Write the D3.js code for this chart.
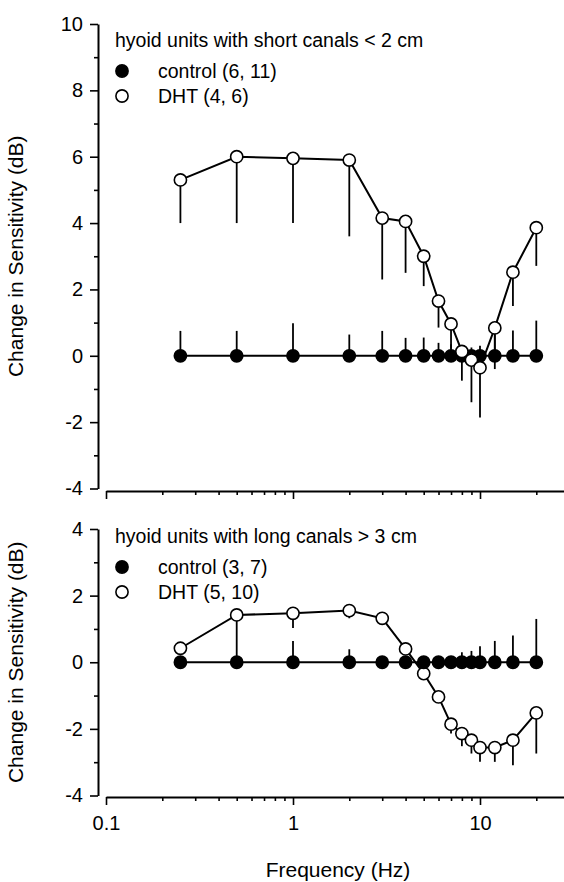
<!DOCTYPE html>
<html>
<head>
<meta charset="utf-8">
<script src="https://cdn.jsdelivr.net/npm/d3@7"></script>
<style>
  html, body { margin: 0; padding: 0; background: #fff; }
  svg { display: block; }
  text { font-family: "Liberation Sans", Arial, Helvetica, sans-serif; fill: #000; }
</style>
</head>
<body>
<script>
// Stimulus frequencies (Hz), shared by every series
const frequencies = [0.25, 0.5, 1, 2, 3, 4, 5, 6, 7, 8, 9, 10, 12, 15, 20];

// Hyoid units with short canals (< 2 cm)
const shortControl    = [0, 0, 0, 0, 0, 0, 0, 0, 0, 0, 0, 0, 0, 0, 0];
const shortControlErr = [0.75, 0.75, 0.98, 0.64, 0.75, 0.54, 0.55, 0.39, 0.35, 0.3, 0.25, 0.3, 0.64, 0.76, 1.06];
const shortDHT        = [5.3, 6.0, 5.95, 5.9, 4.15, 4.05, 3.0, 1.65, 0.96, 0.13, -0.13, -0.36, 0.84, 2.52, 3.86];
const shortDHTErr     = [1.3, 2.0, 1.95, 2.3, 1.85, 1.55, 0.9, 0.8, 0.75, 0.88, 1.27, 1.5, 1.24, 1.02, 1.15];

// Hyoid units with long canals (> 3 cm)
const longControl    = [0, 0, 0, 0, 0, 0, 0, 0, 0, 0, 0, 0, 0, 0, 0];
const longControlErr = [0.05, 0.15, 0.64, 0.39, 0.12, 0.15, 0.1, 0.1, 0.12, 0.3, 0.34, 0.48, 0.64, 0.8, 1.3];
const longDHT        = [0.42, 1.42, 1.47, 1.55, 1.32, 0.4, -0.34, -1.04, -1.86, -2.14, -2.34, -2.56, -2.56, -2.34, -1.52];
const longDHTErr     = [0.05, 1.3, 0.44, 0.23, 0.1, 0.1, 0.1, 0.15, 0.28, 0.38, 0.4, 0.43, 0.43, 0.75, 1.22];

// Axis ticks
const xMajorTicks = [0.1, 1, 10];
const xMajorLabels = ["0.1", "1", "10"];
const xMinorTicks = [0.2, 0.3, 0.4, 0.5, 0.6, 0.7, 0.8, 0.9, 2, 3, 4, 5, 6, 7, 8, 9, 20, 30];
const topYTicks = [-4, -2, 0, 2, 4, 6, 8, 10];
const topYMinor = [-3, -1, 1, 3, 5, 7, 9];
const bottomYTicks = [-4, -2, 0, 2, 4];
const bottomYMinor = [-3, -1, 1, 3];

// Legend text
const topTitle = "hyoid units with short canals < 2 cm";
const topLegend = ["control (6, 11)", "DHT (4, 6)"];
const bottomTitle = "hyoid units with long canals > 3 cm";
const bottomLegend = ["control (3, 7)", "DHT (5, 10)"];
const yLabel = "Change in Sensitivity (dB)";
const xLabel = "Frequency (Hz)";

const W = 564, H = 882;
const TICK_FS = 20, LEGEND_FS = 19.5, TITLE_FS = 21;
const R = 6.1;
const svg = d3.select("body").append("svg").attr("width", W).attr("height", H);
svg.append("rect").attr("width", W).attr("height", H).attr("fill", "#fff");

const x = d3.scaleLog().domain([0.1, 30]).range([106, 106 + 187 * Math.log10(300)]);
const yAxisX = 98;

function drawPanel(opts) {
  const g = svg.append("g");
  const y = d3.scaleLinear().domain(opts.yDomain).range(opts.yRange);

  // y axis: major ticks with labels, minor ticks without
  g.append("g").attr("transform", `translate(${yAxisX},0)`)
    .call(d3.axisLeft(y).tickValues(opts.yTicks).tickSize(8).tickSizeOuter(0).tickPadding(7).tickFormat(d => String(d)));
  g.append("g").attr("transform", `translate(${yAxisX},0)`)
    .call(d3.axisLeft(y).tickValues(opts.yMinor).tickSize(4).tickSizeOuter(0).tickFormat(""))
    .select(".domain").remove();

  // x axis
  g.append("g").attr("transform", `translate(0,${opts.xAxisY})`)
    .call(d3.axisBottom(x).tickValues(xMajorTicks).tickSize(8).tickSizeOuter(0).tickPadding(11)
      .tickFormat((d, i) => opts.xLabels ? xMajorLabels[i] : ""));
  g.append("g").attr("transform", `translate(0,${opts.xAxisY})`)
    .call(d3.axisBottom(x).tickValues(xMinorTicks).tickSize(4).tickSizeOuter(0).tickFormat(""))
    .select(".domain").remove();

  g.selectAll(".domain").attr("stroke", "#000").attr("stroke-width", 2);
  g.selectAll(".tick line").attr("stroke", "#000").attr("stroke-width", 1.6);
  g.selectAll(".tick text").attr("font-size", TICK_FS).attr("font-family", "Liberation Sans, Arial, sans-serif").attr("fill", "#000");

  // y label
  g.append("text")
    .attr("transform", `translate(23,${(opts.yRange[0] + opts.yRange[1]) / 2}) rotate(-90)`)
    .attr("text-anchor", "middle").attr("font-size", TITLE_FS).text(yLabel);

  const series = [
    { vals: opts.control, err: opts.controlErr, dir: 1, fill: "#000" },
    { vals: opts.dht, err: opts.dhtErr, dir: -1, fill: "#fff" }
  ];
  const order = opts.controlOnTop ? [series[1], series[0]] : [series[0], series[1]];

  const line = d3.line().x((d, i) => x(frequencies[i])).y(d => y(d));

  // one-sided error bars under everything else
  series.forEach(s => {
    g.append("g").selectAll("line").data(s.vals).join("line")
      .attr("x1", (d, i) => x(frequencies[i])).attr("x2", (d, i) => x(frequencies[i]))
      .attr("y1", d => y(d)).attr("y2", (d, i) => y(d + s.dir * s.err[i]))
      .attr("stroke", "#000").attr("stroke-width", 1.8);
  });
  order.forEach(s => {
    g.append("path").datum(s.vals).attr("d", line)
      .attr("fill", "none").attr("stroke", "#000").attr("stroke-width", 2);
    g.append("g").selectAll("circle").data(s.vals).join("circle")
      .attr("cx", (d, i) => x(frequencies[i])).attr("cy", d => y(d))
      .attr("r", R).attr("fill", s.fill).attr("stroke", "#000").attr("stroke-width", 1.6);
  });

  // legend
  const lg = g.append("g");
  lg.append("text").attr("x", 115).attr("y", opts.legendY).attr("font-size", LEGEND_FS).text(opts.title);
  opts.legend.forEach((t, i) => {
    const cy = opts.legendY + 24 + i * 25;
    lg.append("circle").attr("cx", 122).attr("cy", cy).attr("r", R)
      .attr("fill", i === 0 ? "#000" : "#fff").attr("stroke", "#000").attr("stroke-width", 1.6);
    lg.append("text").attr("x", 158).attr("y", cy + 6.5).attr("font-size", LEGEND_FS).text(t);
  });
}

drawPanel({
  yDomain: [-4, 10], yRange: [488.5, 24], xAxisY: 491,
  yTicks: topYTicks, yMinor: topYMinor, xLabels: false,
  control: shortControl, controlErr: shortControlErr,
  dht: shortDHT, dhtErr: shortDHTErr, controlOnTop: false,
  title: topTitle, legend: topLegend, legendY: 47
});

drawPanel({
  yDomain: [-4, 4], yRange: [795.5, 529], xAxisY: 797,
  yTicks: bottomYTicks, yMinor: bottomYMinor, xLabels: true,
  control: longControl, controlErr: longControlErr,
  dht: longDHT, dhtErr: longDHTErr, controlOnTop: true,
  title: bottomTitle, legend: bottomLegend, legendY: 543
});

svg.append("text").attr("x", 338).attr("y", 877).attr("text-anchor", "middle")
  .attr("font-size", TITLE_FS).text(xLabel);
</script>
</body>
</html>
